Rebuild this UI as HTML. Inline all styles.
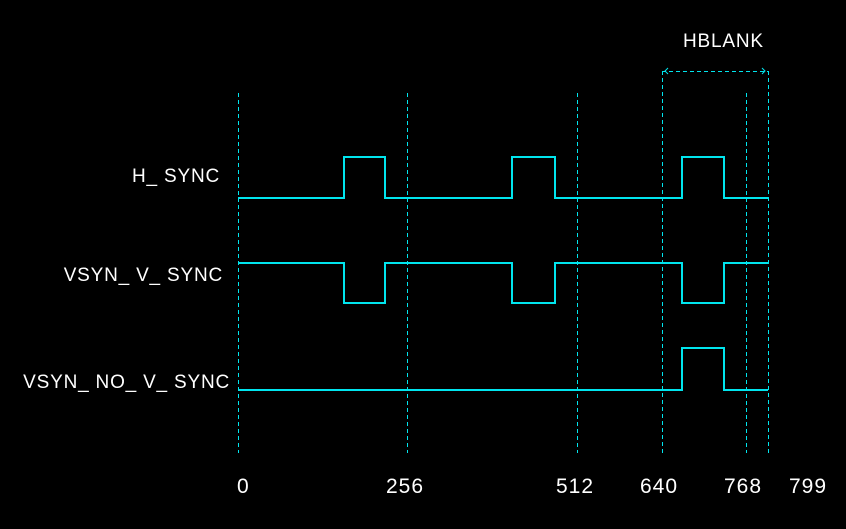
<!DOCTYPE html>
<html><head><style>
html,body{margin:0;padding:0;background:#000;}
svg{display:block;}
text{font-family:"Liberation Sans",sans-serif;fill:#fff;}
</style></head><body>
<svg width="846" height="529" viewBox="0 0 846 529" xmlns="http://www.w3.org/2000/svg">
<rect width="846" height="529" fill="#000"/>
<g stroke="#00e5ee" stroke-width="1" stroke-dasharray="4,3" fill="none">
<line x1="238.5" y1="93" x2="238.5" y2="453"/>
<line x1="407.5" y1="93" x2="407.5" y2="453"/>
<line x1="577.5" y1="93" x2="577.5" y2="453"/>
<line x1="662.5" y1="71" x2="662.5" y2="453"/>
<line x1="746.5" y1="93" x2="746.5" y2="453"/>
<line x1="768.5" y1="71" x2="768.5" y2="453"/>
<line x1="662" y1="71.5" x2="768" y2="71.5"/>
</g>
<g stroke="#00e5ee" stroke-width="1" fill="none">
<path d="M668,68 L665,71 L668,74"/>
<path d="M762,68 L765,71 L762,74"/>
</g>
<g stroke="#00e5ee" stroke-width="2" fill="none">
<path d="M238,198 H344 V157 H385 V198 H512 V157 H555 V198 H682 V157 H724 V198 H768"/>
<path d="M238,263 H344 V303 H385 V263 H512 V303 H555 V263 H682 V303 H724 V263 H768"/>
<path d="M238,390 H682 V348 H724 V390 H768"/>
</g>
<g font-size="19" letter-spacing="0.8">
<text x="220" y="182" text-anchor="end">H_ SYNC</text>
<text x="223" y="281" text-anchor="end">VSYN_ V_ SYNC</text>
<text x="230" y="388" text-anchor="end">VSYN_ NO_ V_ SYNC</text>
<text x="683" y="47">HBLANK</text>
</g>
<g font-size="21" letter-spacing="1">
<text x="237" y="493">0</text>
<text x="386" y="493">256</text>
<text x="556" y="493">512</text>
<text x="640" y="493">640</text>
<text x="724" y="493">768</text>
<text x="789" y="493">799</text>
</g>
</svg>
</body></html>
